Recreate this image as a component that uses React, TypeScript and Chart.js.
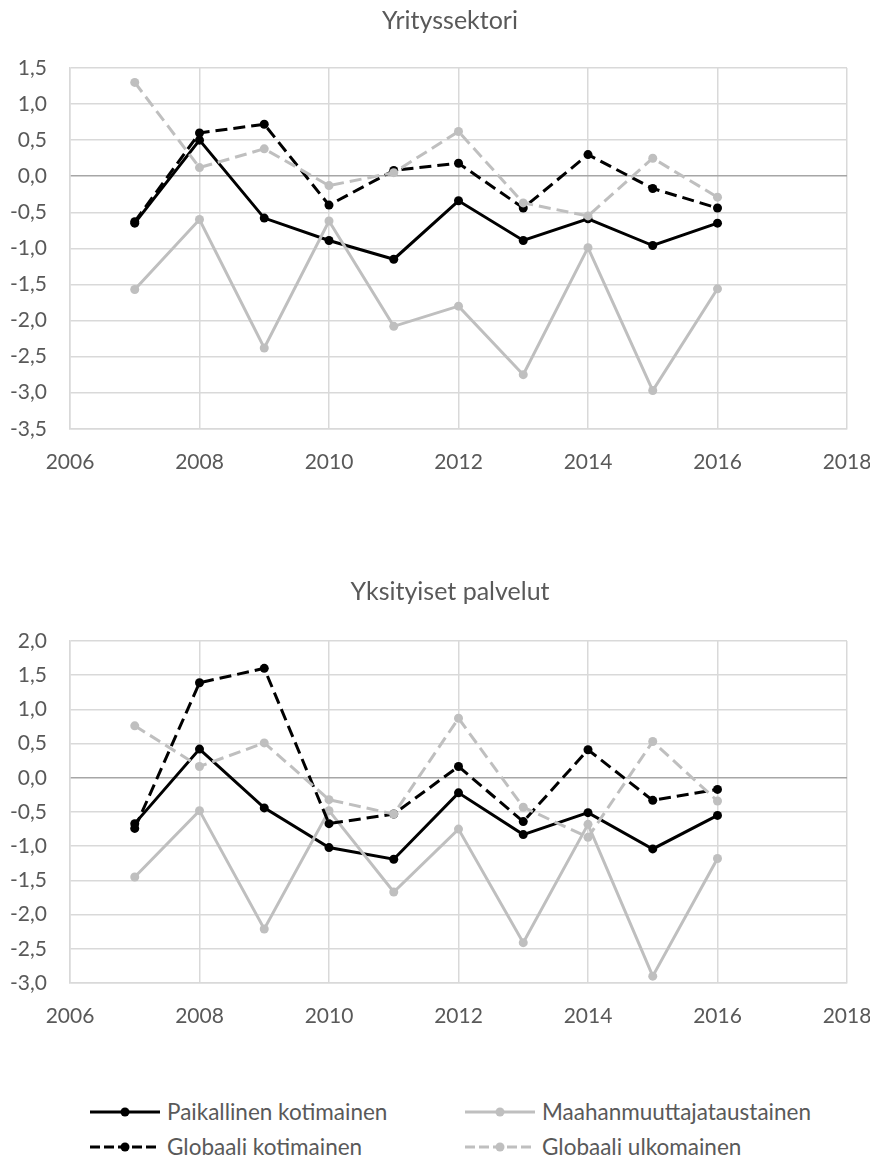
import React, { useEffect, useRef } from "react";
import { Chart, registerables } from "chart.js";

Chart.register(...registerables);

// ---- data ----
const years = [2007, 2008, 2009, 2010, 2011, 2012, 2013, 2014, 2015, 2016];
const xTicks = [2006, 2008, 2010, 2012, 2014, 2016, 2018];

const seriesNames = [
  "Paikallinen kotimainen",
  "Maahanmuuttajataustainen",
  "Globaali kotimainen",
  "Globaali ulkomainen",
];

// Yrityssektori
const yrPaikallinen = [-0.65, 0.5, -0.58, -0.89, -1.15, -0.34, -0.89, -0.59, -0.96, -0.65];
const yrMaahanmuuttaja = [-1.57, -0.6, -2.38, -0.62, -2.08, -1.8, -2.75, -0.99, -2.97, -1.56];
const yrGlobKoti = [-0.63, 0.6, 0.72, -0.4, 0.08, 0.18, -0.44, 0.3, -0.17, -0.44];
const yrGlobUlko = [1.3, 0.12, 0.38, -0.13, 0.05, 0.62, -0.37, -0.55, 0.25, -0.29];

// Yksityiset palvelut
const ypPaikallinen = [-0.67, 0.42, -0.44, -1.02, -1.19, -0.22, -0.83, -0.51, -1.04, -0.55];
const ypMaahanmuuttaja = [-1.45, -0.48, -2.21, -0.48, -1.67, -0.75, -2.41, -0.68, -2.9, -1.18];
const ypGlobKoti = [-0.74, 1.39, 1.6, -0.67, -0.53, 0.165, -0.64, 0.41, -0.33, -0.17];
const ypGlobUlko = [0.76, 0.165, 0.51, -0.32, -0.53, 0.87, -0.43, -0.87, 0.53, -0.34];

// ---- styles ----
const FONT = "Lato, 'Open Sans', sans-serif";
const TEXT = "#595959";
const GRID = "#d9d9d9";
const ZERO = "#a6a6a6";
const seriesColors = ["#000000", "#bfbfbf", "#000000", "#bfbfbf"];
const seriesDashed = [false, false, true, true];

const CANVAS_W = 900;

function makeDatasets(values: number[][]) {
  return values.map((vals, i) => ({
    label: seriesNames[i],
    data: years.map((y, j) => ({ x: y, y: vals[j] })),
    borderColor: seriesColors[i],
    backgroundColor: seriesColors[i],
    pointBackgroundColor: seriesColors[i],
    pointBorderColor: seriesColors[i],
    borderWidth: 3,
    borderDash: seriesDashed[i] ? [12, 6] : [],
    pointRadius: 4.5,
    pointBorderWidth: 0,
    tension: 0,
    order: 4 - i,
  }));
}

type Props = {
  title: string;
  values: number[][];
  yMin: number;
  yMax: number;
  height: number;
  padTop: number;
  titlePadBottom: number;
  padBottom: number;
};

function LineChart({ title, values, yMin, yMax, height, padTop, titlePadBottom, padBottom }: Props) {
  const ref = useRef<HTMLCanvasElement | null>(null);
  useEffect(() => {
    if (!ref.current) return;
    const chart = new Chart(ref.current, {
      type: "line",
      data: { datasets: makeDatasets(values) as any },
      options: {
        animation: false,
        responsive: false,
        maintainAspectRatio: false,
        layout: { padding: { top: padTop, right: 16, bottom: padBottom, left: 0 } },
        plugins: {
          legend: { display: false },
          tooltip: { enabled: false },
          title: {
            display: true,
            text: title,
            color: TEXT,
            font: { family: FONT, size: 25, weight: "normal", lineHeight: 1 },
            padding: { top: 0, bottom: titlePadBottom },
          },
        },
        scales: {
          x: {
            type: "linear",
            min: 2006,
            max: 2018,
            afterBuildTicks: (scale: any) => {
              scale.ticks = xTicks.map((v) => ({ value: v }));
            },
            afterFit: (scale: any) => {
              scale.paddingLeft = 0;
              scale.paddingRight = 61;
            },
            ticks: {
              color: TEXT,
              font: { family: FONT, size: 21 },
              padding: 21,
              callback: (v: any) => String(v),
            },
            grid: { color: GRID, lineWidth: 1.5, drawTicks: false },
            border: { color: GRID, width: 1.5 },
          },
          y: {
            min: yMin,
            max: yMax,
            afterFit: (scale: any) => {
              scale.width = 62;
            },
            ticks: {
              stepSize: 0.5,
              color: TEXT,
              font: { family: FONT, size: 21 },
              padding: 23,
              callback: (v: any) => Number(v).toFixed(1).replace(".", ","),
            },
            grid: {
              color: (ctx: any) => (ctx.tick && Math.abs(ctx.tick.value) < 1e-9 ? ZERO : GRID),
              lineWidth: 1.5,
              drawTicks: false,
            },
            border: { color: GRID, width: 1.5 },
          },
        },
      } as any,
    });
    return () => chart.destroy();
  }, []);
  return (
    <div style={{ width: 870, height, overflow: "hidden" }}>
      <canvas
        ref={ref}
        width={CANVAS_W}
        height={height}
        style={{ display: "block", width: CANVAS_W, height }}
      />
    </div>
  );
}

function LegendItem({ i }: { i: number }) {
  const c = seriesColors[i];
  return (
    <div style={{ display: "flex", alignItems: "center", height: 35 }}>
      <svg width={70} height={14} style={{ display: "block", flex: "none" }}>
        <line
          x1={0}
          y1={7}
          x2={70}
          y2={7}
          stroke={c}
          strokeWidth={3}
          strokeDasharray={seriesDashed[i] ? "10 4" : undefined}
        />
        <circle cx={35} cy={7} r={4.5} fill={c} />
      </svg>
      <span style={{ marginLeft: 7, fontFamily: FONT, fontSize: 22.5, color: TEXT, whiteSpace: "nowrap" }}>
        {seriesNames[i]}
      </span>
    </div>
  );
}

export default function App() {
  return (
    <div style={{ width: 870 }}>
      <LineChart
        title="Yrityssektori"
        values={[yrPaikallinen, yrMaahanmuuttaja, yrGlobKoti, yrGlobUlko]}
        yMin={-3.5}
        yMax={1.5}
        height={488}
        padTop={0}
        titlePadBottom={35}
        padBottom={0}
      />
      <LineChart
        title="Yksityiset palvelut"
        values={[ypPaikallinen, ypMaahanmuuttaja, ypGlobKoti, ypGlobUlko]}
        yMin={-3.0}
        yMax={2.0}
        height={555}
        padTop={83.5}
        titlePadBottom={36.5}
        padBottom={0.8}
      />
      <div
        style={{
          display: "grid",
          gridTemplateColumns: "375px 375px",
          paddingLeft: 82,
          marginTop: 43,
        }}
      >
        <LegendItem i={0} />
        <LegendItem i={1} />
        <LegendItem i={2} />
        <LegendItem i={3} />
      </div>
    </div>
  );
}
